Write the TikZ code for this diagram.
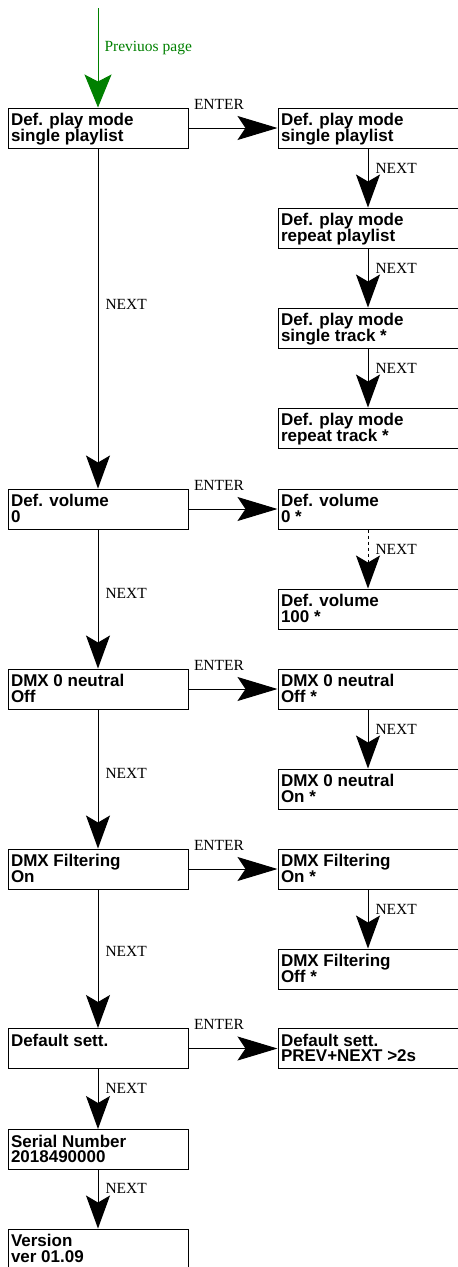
\documentclass[tikz,border=0pt]{standalone}
\usepackage{fontspec}
\usepackage{xcolor}
\setmainfont{Liberation Serif}
\newfontfamily\menufont{Liberation Sans}
\usetikzlibrary{arrows.meta,positioning}
\definecolor{pagegreen}{RGB}{0,128,0}
\newcommand{\menutext}[1]{\parbox[c][29pt][t]{174pt}{\lineskiplimit=-\maxdimen\raggedright #1}}

\begin{document}
\begin{tikzpicture}[x=1pt,y=-1pt,line width=1pt,
  menu/.style={draw,rectangle,minimum width=180pt,minimum height=40pt,inner xsep=3pt,inner ysep=5.5pt,
    font=\menufont\bfseries\fontsize{17pt}{15.6pt}\selectfont},
  nextarr/.style={-{Stealth[length=33pt,width=24pt,inset=7pt]}},
  enterarr/.style={-{Stealth[length=40pt,width=24pt,inset=8pt]}},
  lbl/.style={font=\fontsize{15.5pt}{17pt}\selectfont,inner sep=2pt},
  nextlbl/.style={lbl,right=5pt},
  enterlbl/.style={lbl,anchor=base west,pos=0,xshift=3pt,yshift=19pt}]
\useasboundingbox (0,0) rectangle (458,1267);
% main menu
\coordinate (prev) at (98,8);
\node[menu] (play) at (98,128) {\menutext{Def. play mode\\single playlist}};
\node[menu] (vol) at (98,509) {\menutext{Def. volume\\0}};
\node[menu] (dmx) at (98,689) {\menutext{DMX 0 neutral\\Off}};
\node[menu] (filt) at (98,869) {\menutext{DMX Filtering\\On}};
\node[menu] (deflt) at (98,1048.5) {\menutext{Default sett.}};
\node[menu] (serial) at (98,1149.5) {\menutext{Serial Number\\2018490000}};
\node[menu] (ver) at (98,1249) {\menutext{Version\\ver 01.09}};
% sub menus
\node[menu] (play1) at (368,128) {\menutext{Def. play mode\\single playlist}};
\node[menu] (play2) at (368,228) {\menutext{Def. play mode\\repeat playlist}};
\node[menu] (play3) at (368,328) {\menutext{Def. play mode\\single track *}};
\node[menu] (play4) at (368,428) {\menutext{Def. play mode\\repeat track *}};
\node[menu] (vol1) at (368,509) {\menutext{Def. volume\\0 *}};
\node[menu] (vol2) at (368,609) {\menutext{Def. volume\\100 *}};
\node[menu] (dmx1) at (368,689) {\menutext{DMX 0 neutral\\Off *}};
\node[menu] (dmx2) at (368,789) {\menutext{DMX 0 neutral\\On *}};
\node[menu] (filt1) at (368,869) {\menutext{DMX Filtering\\On *}};
\node[menu] (filt2) at (368,969) {\menutext{DMX Filtering\\Off *}};
\node[menu] (deflt1) at (368,1048.5) {\menutext{Default sett.\\PREV+NEXT >2s}};
% connectors
\path (prev) edge [pagegreen,-{Stealth[length=33pt,width=27pt,inset=7pt]}] node[lbl,right=4pt,pos=.405,text=pagegreen] {Previuos page} (play);
\path (play) edge [nextarr] node[nextlbl,pos=.46] {NEXT} (vol);
\path (vol) edge [nextarr] node[nextlbl,pos=.46] {NEXT} (dmx);
\path (dmx) edge [nextarr] node[nextlbl,pos=.46] {NEXT} (filt);
\path (filt) edge [nextarr] node[nextlbl,pos=.45] {NEXT} (deflt);
\path (deflt) edge [nextarr] node[nextlbl,pos=.32] {NEXT} (serial);
\path (serial) edge [nextarr] node[nextlbl,pos=.32] {NEXT} (ver);
\path (play) edge [enterarr] node[enterlbl] {ENTER} (play1);
\path (vol) edge [enterarr] node[enterlbl] {ENTER} (vol1);
\path (dmx) edge [enterarr] node[enterlbl] {ENTER} (dmx1);
\path (filt) edge [enterarr] node[enterlbl] {ENTER} (filt1);
\path (deflt) edge [enterarr] node[enterlbl] {ENTER} (deflt1);
\path (play1) edge [nextarr] node[nextlbl,pos=.33] {NEXT} (play2);
\path (play2) edge [nextarr] node[nextlbl,pos=.33] {NEXT} (play3);
\path (play3) edge [nextarr] node[nextlbl,pos=.33] {NEXT} (play4);
\path (vol1) edge [nextarr,dashed] node[nextlbl,pos=.33] {NEXT} (vol2);
\path (dmx1) edge [nextarr] node[nextlbl,pos=.33] {NEXT} (dmx2);
\path (filt1) edge [nextarr] node[nextlbl,pos=.33] {NEXT} (filt2);
\end{tikzpicture}
\end{document}
